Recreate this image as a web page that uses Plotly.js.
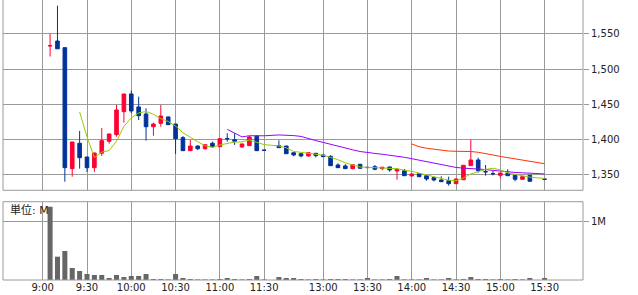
<!DOCTYPE html>
<html>
<head>
<meta charset="utf-8">
<script src="https://cdn.plot.ly/plotly-3.0.1.min.js"></script>
<style>
  html, body { margin: 0; padding: 0; background: #fff; }
  #chart { width: 638px; height: 295px; }
</style>
</head>
<body>
<div id="chart"></div>
<script>
// 5-minute slots: 0 = 9:00 gridline, 31 = lunch gap, 38 = 13:00 ... 68 = 15:30
const slots = [1,2,3,4,5,6,7,8,9,10,11,12,13,14,15,16,17,18,19,20,21,22,23,24,25,26,27,28,29,30,
               32,33,34,35,36,37,38,39,40,41,42,43,44,45,46,47,48,49,50,51,52,53,54,55,56,57,58,59,60,61,62,63,64,65,66,68];
const openP  = [1533,1540,1530.6,1359,1395,1375.5,1360.4,1380.8,1397.8,1407.2,1439.8,1464.9,1446.5,1436.5,1418.5,1423.3,1432.3,1422.3,1402.9,1384.5,1391.1,1387.3,1395,1390.2,1401.8,1400.1,1389.7,1391.6,1404.9,1385.3,
               1391.6,1391.1,1381.6,1380.2,1377,1380.8,1378.4,1376.5,1364.2,1362.8,1359,1365.2,1361,1361.8,1359,1361.4,1355.7,1356.1,1348.6,1351.8,1349,1346.2,1342.9,1341.9,1337.7,1343.3,1363.2,1371.3,1354.8,1352,1349.6,1352.4,1349.6,1343.9,1349.6,1344.2];
const highP  = [1550,1590,1531,1397,1412.4,1376,1381.5,1416.7,1408.5,1449.3,1465,1469.6,1461.1,1444.6,1424.2,1449.3,1433,1422.5,1405.3,1399.6,1392,1393,1397.2,1402,1409.2,1409.2,1394.5,1405.3,1406.7,1385.5,
               1399.2,1391.2,1382,1380.5,1382,1381,1378.5,1378,1366.6,1365.4,1365,1365.5,1361.5,1364.2,1361.2,1361.5,1359.5,1358.5,1352.5,1352,1349.5,1347,1348.2,1347.6,1345,1364,1400.1,1374.5,1364.2,1355.7,1353,1358.1,1350,1348,1350,1344.2];
const lowP   = [1518,1529,1340.5,1347.6,1359,1354.3,1354.3,1377,1394.4,1404.3,1424.2,1437.5,1428,1398.7,1405.7,1418.5,1421,1379.8,1384,1384,1385.5,1386,1388.7,1390,1397.2,1392.6,1388.7,1391,1384,1385,
               1388.5,1380,1376.5,1375,1376,1375.1,1376,1363,1360,1359,1358,1359,1360.5,1356.7,1356.7,1354.7,1343.3,1349,1348,1347,1341.9,1341,1340,1334.9,1337,1343,1363,1353.3,1349,1349.5,1345.3,1349,1341.1,1343.5,1341,1344];
const closeP = [1533.5,1529,1360.4,1396.8,1374.6,1360.4,1381.2,1398.7,1408.2,1442.2,1464.9,1440.8,1434.1,1418.5,1422.3,1433.7,1421.4,1401.5,1384.5,1391.1,1387.3,1393,1390.2,1401.5,1401.3,1397.8,1394,1403.9,1384.5,1385,
               1388.7,1380.2,1378.4,1377,1381.6,1377.4,1376,1363.2,1360.4,1359,1364.6,1359.5,1360.5,1358.1,1361,1357.1,1358.1,1349,1351.4,1347.6,1344.3,1342.9,1340.5,1337.7,1344.3,1363.8,1371.3,1356.1,1354.5,1351.7,1352.8,1349,1343.9,1347.6,1341.1,1344];
const volumeM = [1.257,0.40,0.497,0.206,0.154,0.103,0.086,0.086,0.034,0.086,0.051,0.069,0.069,0.103,0.017,0.017,0.01,0.103,0.034,0.017,0.01,0.01,0.01,0.017,0.034,0.017,0.01,0.017,0.069,0.01,
               0.051,0.034,0.034,0.017,0.01,0.017,0.01,0.017,0.017,0.017,0.01,0.01,0.034,0.01,0.01,0.017,0.069,0.01,0.01,0.01,0.034,0.01,0.01,0.034,0.01,0.017,0.051,0.017,0.017,0.01,0.017,0.01,0.017,0.01,0.034,0.034];

// moving averages
const ma5Slots = [5,6,7,8,9,10,11,12,13,14,15,16,17,18,19,20,21,22,23,24,25,26,27,28,29,30,
                  32,33,34,35,36,37,38,39,40,41,42,43,44,45,46,47,48,49,50,51,52,53,54,55,56,57,58,59,60,61,62,63,64,65,66,68];
const ma5 = [1439.4,1404.2,1374.6,1382.4,1384.6,1398,1419,1431,1438,1440.1,1436.1,1429.9,1425.9,1419.4,1410,1403,1397.1,1391.5,1389.2,1392.6,1394.6,1396.7,1396.9,1399.7,1396.3,1393.1,
             1391.2,1388.5,1383.4,1381.9,1381.2,1378.9,1378.1,1375,1371.7,1367.2,1364.6,1361.3,1360.8,1360.3,1360.7,1359.2,1359,1356.7,1355.3,1352.6,1350.1,1347,1345.3,1342.6,1341.9,1345.8,1351.5,1354.6,1358,1359.5,1357.3,1352.8,1350.4,1349,1346.9,1345.1];
const ma25Slots = [25,26,27,28,29,30,32,33,34,35,36,37,38,39,40,41,42,43,44,45,46,47,48,49,50,51,52,53,54,55,56,57,58,59,60,61,62,63,64,65,66,68];
const ma25 = [1414.8,1409.4,1404,1405.7,1405.2,1405.6,1406.8,1406.7,1405.9,1404.7,1402.3,1398.8,1396.2,1393.3,1391,1388.5,1385.7,1383.3,1381.6,1380.6,1379.4,1378.1,1376.8,1375.1,1373.1,1371,1368.8,1366.8,1364.2,1362.4,1360.7,1359.7,1359.4,1358.5,1357.6,1356.4,1355.4,1354.3,1353.6,1353.1,1352.3,1351.5];
const ma50Slots = [50,51,52,53,54,55,56,57,58,59,60,61,62,63,64,65,66,68];
const ma50 = [1394,1390.1,1387.9,1386.5,1385,1384,1383.6,1383.6,1383.3,1382.2,1379.8,1378.4,1376.3,1374.6,1372.7,1370.9,1368.9,1366];

const timeTickSlots = [0,6,12,18,24,30,38,44,50,56,62,68];
const timeTickLabels = ['9:00','9:30','10:00','10:30','11:00','11:30','13:00','13:30','14:00','14:30','15:00','15:30'];
const priceTicks = [1350,1400,1450,1500,1550];
const priceTickLabels = ['1,350','1,400','1,450','1,500','1,550'];
const volTicks = [1];
const volTickLabels = ['1M'];

const GRID = '#9a9a9a';
const FONT = 'DejaVu Sans, Noto Sans CJK JP, sans-serif';
const mainDom = [0.3204, 1];
const volDom = [0, 0.2796];

const traces = [
  {
    type: 'candlestick', x: slots, open: openP, high: highP, low: lowP, close: closeP,
    xaxis: 'x', yaxis: 'y',
    increasing: {line: {color: '#ff0033', width: 1}, fillcolor: '#ff0033'},
    decreasing: {line: {color: '#003399', width: 1}, fillcolor: '#003399'},
    whiskerwidth: 0, hoverinfo: 'skip', showlegend: false
  },
  {type: 'scatter', mode: 'lines', x: ma50Slots, y: ma50, xaxis: 'x', yaxis: 'y',
   line: {color: '#ff3300', width: 1}, hoverinfo: 'skip', showlegend: false},
  {type: 'scatter', mode: 'lines', x: ma25Slots, y: ma25, xaxis: 'x', yaxis: 'y',
   line: {color: '#9900ff', width: 1}, hoverinfo: 'skip', showlegend: false},
  {type: 'scatter', mode: 'lines', x: ma5Slots, y: ma5, xaxis: 'x', yaxis: 'y',
   line: {color: '#99cc00', width: 1}, hoverinfo: 'skip', showlegend: false},
  {type: 'bar', x: slots, y: volumeM, xaxis: 'x', yaxis: 'y2', width: 0.68,
   marker: {color: '#666666', line: {width: 0}}, hoverinfo: 'skip', showlegend: false}
];

const layout = {
  width: 638, height: 295,
  margin: {l: 3, r: 55, t: 0, b: 15, pad: 0},
  paper_bgcolor: '#ffffff', plot_bgcolor: '#ffffff',
  showlegend: false,
  font: {family: FONT, size: 10, color: '#222'},
  xaxis: {
    range: [-5.38, 73.2], anchor: 'y2',
    tickmode: 'array', tickvals: timeTickSlots, ticktext: timeTickLabels,
    showgrid: true, gridcolor: GRID, gridwidth: 1, zeroline: false, showline: false,
    ticks: '', tickfont: {family: FONT, size: 10, color: '#222'},
    rangeslider: {visible: false}, fixedrange: true
  },
  yaxis: {
    domain: mainDom, range: [1328.3, 1598.2], side: 'right', anchor: 'x',
    tickmode: 'array', tickvals: priceTicks, ticktext: priceTickLabels,
    showgrid: true, gridcolor: GRID, gridwidth: 1, zeroline: false, showline: false,
    ticks: 'outside', ticklen: 5, tickcolor: GRID, tickwidth: 1,
    tickfont: {family: FONT, size: 10, color: '#222'}, fixedrange: true
  },
  yaxis2: {
    domain: volDom, range: [0, 1.343], side: 'right', anchor: 'x',
    tickmode: 'array', tickvals: volTicks, ticktext: volTickLabels,
    showgrid: true, gridcolor: GRID, gridwidth: 1, zeroline: false, showline: false,
    ticks: 'outside', ticklen: 5, tickcolor: GRID, tickwidth: 1,
    tickfont: {family: FONT, size: 10, color: '#222'}, fixedrange: true
  },
  shapes: [
    {type: 'line', xref: 'paper', yref: 'paper', x0: 0, x1: 0, y0: mainDom[0], y1: 1.01, line: {color: GRID, width: 1}},
    {type: 'line', xref: 'paper', yref: 'paper', x0: 1, x1: 1, y0: mainDom[0], y1: 1.01, line: {color: GRID, width: 1}},
    {type: 'line', xref: 'paper', yref: 'paper', x0: 0, x1: 1, y0: mainDom[0], y1: mainDom[0], line: {color: GRID, width: 1}},
    {type: 'rect', xref: 'paper', yref: 'paper', x0: 0, x1: 1, y0: volDom[0], y1: volDom[1], line: {color: GRID, width: 1}}
  ],
  annotations: [
    {xref: 'paper', yref: 'paper', x: 0.0086, y: 0.25, xanchor: 'left', yanchor: 'middle',
     text: '単位: M', showarrow: false, font: {family: FONT, size: 11, color: '#222'}}
  ]
};

Plotly.newPlot('chart', traces, layout, {staticPlot: true, displayModeBar: false});
</script>
</body>
</html>
